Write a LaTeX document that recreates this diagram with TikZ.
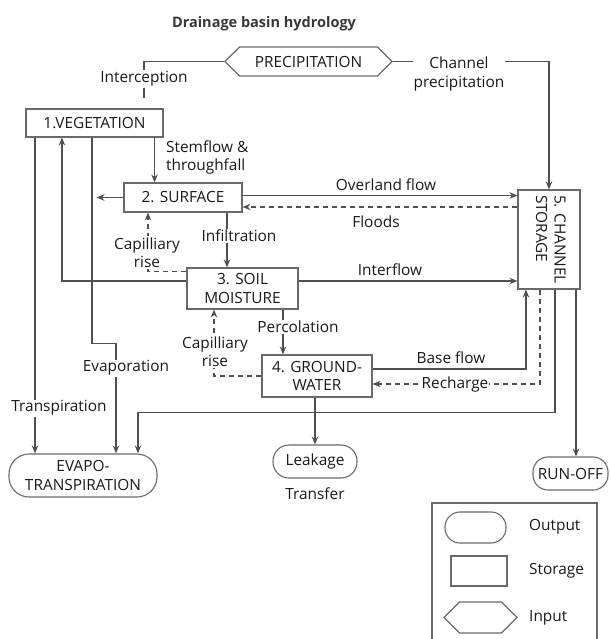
\documentclass[tikz,border=0pt]{standalone}
\usepackage{fontspec}
\setmainfont{Open Sans}
\usepackage{tikz}
\usetikzlibrary{arrows.meta, positioning, shapes.symbols}
\definecolor{hline}{HTML}{505050}
\definecolor{hbox}{HTML}{6A6A6A}
\definecolor{htext}{HTML}{1A1A1A}
\definecolor{htitle}{HTML}{383838}

\begin{document}
\begin{tikzpicture}[x=1pt, y=-1pt,
  lbl/.style={font=\fontsize{15.4}{18.5}\selectfont, text=htext, inner sep=1pt, align=center},
  gap/.style={lbl, fill=white},
  storebox/.style={lbl, draw=hbox, line width=1.1pt, fill=white, inner sep=0pt},
  outbox/.style={lbl, draw=hbox, line width=1.1pt, fill=white, rounded corners=#1, inner sep=0pt},
  inbox/.style={lbl, draw=hbox, line width=1.1pt, fill=white, signal, signal to=east and west, inner sep=0pt},
  flow/.style={draw=hline, line width=1.25pt},
  flowto/.style={flow, -{Stealth[length=8pt, width=6.5pt]}},
  back/.style={flowto, dash pattern=on 5pt off 4pt}]
\useasboundingbox (0,0) rectangle (610,639);
\node[lbl, font=\bfseries\fontsize{14.5}{18.5}\selectfont, text=htitle] (title) at (264,24) {Drainage basin hydrology};
% stores, inputs and outputs
\node[inbox, minimum width=167pt, minimum height=29pt] (prec) at (308.5,61.5) {PRECIPITATION};
\node[storebox, minimum width=137pt, minimum height=28pt] (veg) at (94.5,123) {1.VEGETATION};
\node[storebox, minimum width=118pt, minimum height=29pt] (surf) at (183,197.5) {2. SURFACE};
\node[storebox, minimum width=111pt, minimum height=41pt] (soil) at (242.5,288.5) {3. SOIL\\MOISTURE};
\node[storebox, minimum width=110pt, minimum height=42pt] (gw) at (317,376) {4. GROUND-\\WATER};
\node[storebox, minimum width=62pt, minimum height=99pt] (chan) at (549,239.5)
  {\rotatebox{-90}{\begin{tabular}{@{}l@{}}5. CHANNEL\\STORAGE\end{tabular}}};
\node[outbox=20pt, minimum width=148pt, minimum height=43pt] (evapo) at (83,475.5) {EVAPO-\\TRANSPIRATION};
\node[outbox=16pt, minimum width=84pt, minimum height=33pt] (leak) at (315,461.5) {Leakage};
\node[outbox=15pt, minimum width=75pt, minimum height=33pt] (runoff) at (570.5,473.5) {RUN-OFF};
% precipitation
\node[gap] (lbint) at (144,79) {Interception};
\draw[flow] (prec.west) -| (lbint.north);
\draw[flow, dash pattern=on 10pt off 12pt] (lbint.south) -- (lbint.south |- veg.north);
\draw[flowto] (prec.east) -- (prec.east -| chan.north) -- (chan.north);
% vegetation
\coordinate (stem) at ([xshift=-9pt]veg.south east);
\draw[flowto] (stem) -- (stem |- surf.north);
\coordinate (evp) at ([xshift=-2.5pt]veg.south);
\coordinate (evpin) at ([xshift=33pt]evapo.north);
\draw[flowto] (evp) -- ++(0,206) -| (evpin);
\coordinate (trp) at ([xshift=-59.5pt]veg.south);
\draw[flowto] (trp) -- (trp |- evapo.north);
% surface
\coordinate (surfout) at ([xshift=-27pt]surf.west);
\draw[flowto] (surf.west) -- (surfout);
\coordinate (ovl) at ([yshift=2pt]surf.east);
\draw[flowto] (ovl) -- (ovl -| chan.west);
\coordinate (fld) at ([yshift=-9.5pt]surf.east);
\draw[back] (fld -| chan.west) -- (fld);
\coordinate (inf) at ([xshift=44pt]surf.south);
\draw[flowto] (inf) -- (inf |- soil.north);
% soil moisture
\coordinate (cap1) at ([yshift=-4pt]soil.north west);
\coordinate (cap1up) at ([xshift=-35pt]surf.south);
\draw[back] (cap1) -| (cap1up);
\coordinate (sveg) at ([yshift=7.5pt]soil.west);
\coordinate (vegin) at ([xshift=-32.5pt]veg.south);
\draw[flowto] (sveg) -| (vegin);
\coordinate (ifl) at ([yshift=7.5pt]soil.east);
\draw[flowto] (ifl) -- (ifl -| chan.west);
\coordinate (perc) at ([xshift=40.5pt]soil.south);
\draw[flowto] (perc) -- (perc |- gw.north);
% groundwater
\coordinate (cap2up) at ([xshift=-28.5pt]soil.south);
\draw[back] (gw.west) -| (cap2up);
\coordinate (bfl) at ([yshift=7pt]gw.east);
\coordinate (bflup) at ([xshift=-23pt]chan.south);
\draw[flowto] (bfl) -| (bflup);
\draw[flowto] (gw.south -| leak.north) -- (leak.north);
% channel storage
\coordinate (rch) at ([xshift=-9pt]chan.south);
\coordinate (rchin) at ([yshift=-8pt]gw.east);
\draw[back] (rch) |- (rchin);
\coordinate (etdown) at ([xshift=6pt]chan.south);
\coordinate (etin) at ([xshift=55pt]evapo.north);
\draw[flowto] (etdown) |- ([yshift=41pt]etin) -- (etin);
\coordinate (roff) at ([xshift=27pt]chan.south);
\draw[flowto] (roff) -- (roff |- runoff.north);
% flow labels
\node[gap] (lbchp) at (459,74) {Channel\\precipitation};
\node[lbl, align=left, anchor=west] (lbstem) at (165,157.5) {Stemflow \&\\throughfall};
\node[lbl] (lbover) at (386,185) {Overland flow};
\node[lbl] (lbflood) at (376,222) {Floods};
\node[gap] (lbinf) at (239,236) {Infiltration};
\node[gap] (lbcap1) at (147,252.5) {Capilliary\\rise};
\node[lbl] (lbinter) at (390,270) {Interflow};
\node[gap] (lbperc) at (298,327) {Percolation};
\node[gap] (lbcap2) at (215,351.5) {Capilliary\\rise};
\node[lbl] (lbbase) at (451,358) {Base flow};
\node[gap] (lbrech) at (455,384) {Recharge};
\node[gap] (lbevap) at (126,368) {Evaporation};
\node[gap] (lbtrans) at (59,408) {Transpiration};
\node[lbl, below=8pt of leak] (lbtransf) {Transfer};
% key
\draw[draw=hbox, line width=1.1pt] (432,639) -- (432,503) -- (597,503) -- (597,639);
\node[outbox=15pt, minimum width=61pt, minimum height=31pt] (keyout) at (475.5,527.5) {};
\node[storebox, minimum width=56pt, minimum height=30pt] (keystore) at (479,571) {};
\node[inbox, minimum width=73pt, minimum height=31pt] (keyin) at (480.5,617.5) {};
\node[lbl, anchor=west] (lbout) at (528,527) {Output};
\node[lbl, anchor=west] (lbstore) at (528,571) {Storage};
\node[lbl, anchor=west] (lbin) at (528,618) {Input};
\end{tikzpicture}
\end{document}
